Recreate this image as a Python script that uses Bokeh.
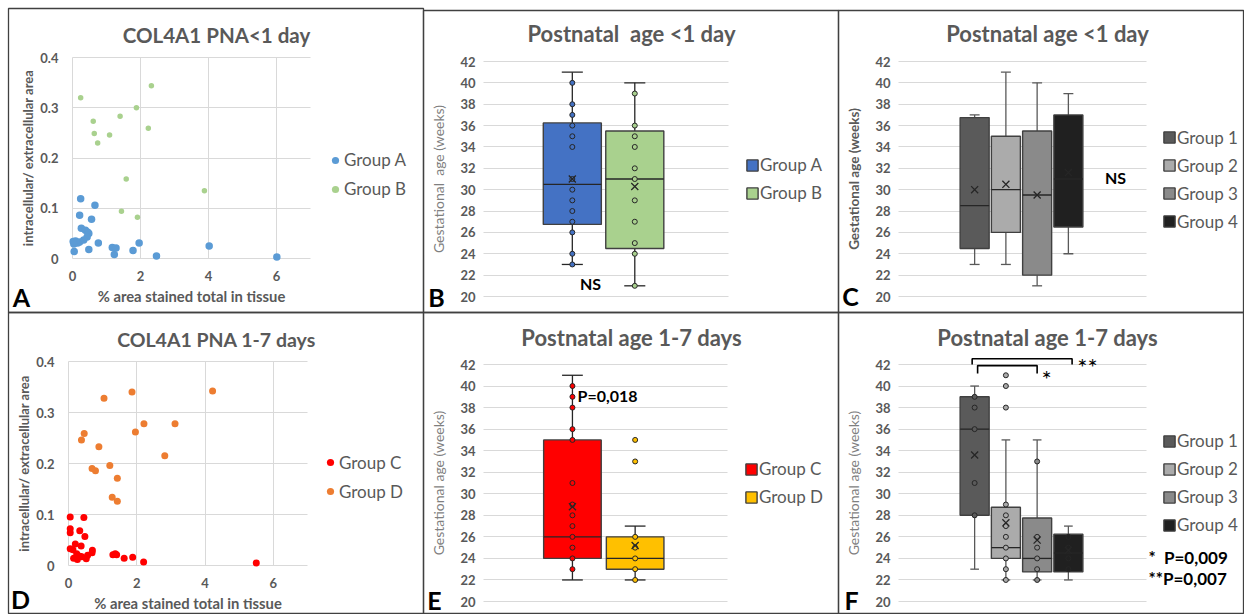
from bokeh.plotting import figure
from bokeh.models import Range1d, Label, Legend, LegendItem, FixedTicker, LinearAxis
from bokeh.embed import file_html
from bokeh.resources import INLINE

FONT = "Lato"
TXT = "#595959"
LBL = "#7F7F7F"
GRID = "#D9D9D9"
EDGE = "#404040"
W, H = 1244, 614
NB = "\u00a0"

# ---------------- data ----------------
groupA_x = [0.24, 0.66, 0.21, 0.56, 0.26, 0.38, 0.45, 0.48, 0.43, 0.33, 0.21, 0.15, 0.09,
            0.04, 0.02, 0.05, 0.48, 0.76, 1.17, 1.28, 1.23, 1.78, 1.96, 2.47, 4.02, 6.01]
groupA_y = [0.119, 0.106, 0.086, 0.078, 0.060, 0.056, 0.052, 0.050, 0.043, 0.037, 0.033, 0.031, 0.035,
            0.029, 0.034, 0.014, 0.018, 0.031, 0.022, 0.021, 0.008, 0.016, 0.031, 0.005, 0.025, 0.003]
groupB_x = [0.24, 2.32, 1.88, 1.40, 0.61, 2.23, 0.64, 1.09, 0.74, 1.58, 3.88, 1.44, 1.91]
groupB_y = [0.320, 0.344, 0.300, 0.283, 0.273, 0.259, 0.249, 0.246, 0.230, 0.158, 0.135, 0.094, 0.082]

groupC_x = [0.05, 0.45, 0.05, 0.05, 0.33, 0.48, 0.37, 0.20, 0.05, 0.13, 0.24, 0.26, 0.39,
            0.52, 0.56, 0.69, 0.70, 1.30, 1.37, 1.41, 1.63, 1.88, 2.20, 5.50, 0.15, 0.34]
groupC_y = [0.095, 0.094, 0.072, 0.064, 0.068, 0.057, 0.038, 0.042, 0.033, 0.031, 0.023, 0.012, 0.017,
            0.013, 0.020, 0.025, 0.030, 0.021, 0.023, 0.021, 0.014, 0.016, 0.007, 0.005, 0.014, 0.018]
groupD_x = [1.04, 1.86, 4.22, 2.21, 3.12, 1.96, 0.46, 0.38, 0.89, 2.82, 1.21, 0.69, 0.79, 1.43, 1.28, 1.43]
groupD_y = [0.328, 0.340, 0.342, 0.278, 0.278, 0.262, 0.259, 0.246, 0.233, 0.215, 0.196, 0.190,
            0.186, 0.171, 0.134, 0.126]

scatter_xticks = [0, 2, 4, 6]
scatter_yticks = [0, 0.1, 0.2, 0.3, 0.4]
box_yticks = [20, 22, 24, 26, 28, 30, 32, 34, 36, 38, 40, 42]

# Panel B: postnatal age <1 day, groups A/B
B_labels = ["Group A", "Group B"]
B_min = [23, 21]
B_q1 = [26.75, 24.5]
B_med = [30.5, 31.0]
B_q3 = [36.25, 35.5]
B_max = [41, 40]
B_mean = [31.0, 30.3]
B_pts = [[23, 24, 26, 27, 28, 29, 30, 31, 34, 35, 36, 37, 38, 40],
         [21, 24, 25, 27, 29, 31, 32, 34, 35, 36, 39]]

# Panel C: postnatal age <1 day, groups 1-4
C_labels = ["Group 1", "Group 2", "Group 3", "Group 4"]
C_min = [23, 23, 21, 24]
C_q1 = [24.5, 26.0, 22.0, 26.5]
C_med = [28.5, 30.0, 29.5, 31.0]
C_q3 = [36.75, 35.0, 35.5, 37.0]
C_max = [37, 41, 40, 39]
C_mean = [30.0, 30.5, 29.5, 31.6]

# Panel E: postnatal age 1-7 days, groups C/D
E_labels = ["Group C", "Group D"]
E_min = [22, 22]
E_q1 = [24.0, 23.0]
E_med = [26.0, 24.0]
E_q3 = [35.0, 26.0]
E_max = [41, 27]
E_mean = [28.8, 25.2]
E_pts = [[23, 24, 25, 26, 27, 28, 29, 31, 35, 36, 38, 39, 40],
         [22, 23, 24, 25, 26, 33, 35]]

# Panel F: postnatal age 1-7 days, groups 1-4
F_labels = ["Group 1", "Group 2", "Group 3", "Group 4"]
F_min = [23, 22, 22, 22]
F_q1 = [28.0, 24.0, 22.75, 22.75]
F_med = [36.0, 25.0, 24.0, 24.5]
F_q3 = [39.0, 28.75, 27.75, 26.25]
F_max = [40, 35, 35, 27]
F_mean = [33.6, 27.3, 25.7, 24.75]
F_pts = [[28, 31, 36, 38, 39],
         [22, 23, 24, 25, 26, 27, 28, 29, 38, 40, 41],
         [22, 23, 24, 25, 26, 33],
         [23, 24, 25, 26]]

GRAYS = ["#5A5A5A", "#ABABAB", "#8A8A8A", "#202020"]

# ---------------- page figure (page-pixel coordinates, y downward) ----------------
p = figure(width=W, height=H, x_range=Range1d(0, W), y_range=Range1d(H, 0),
           min_border=0, min_border_left=0, min_border_right=0, min_border_top=0, min_border_bottom=0,
           x_axis_location=None, y_axis_location=None, output_backend="svg", toolbar_location=None,
           background_fill_color="white", border_fill_color="white")
p.outline_line_color = None
p.grid.visible = False

# panel frames: name -> (left, right, top, bottom) in page pixels, data ranges
FRAMES = {
    "A": ((72, 310, 57, 258), (0, 7), (0, 0.4)),
    "D": ((68, 307, 361, 565), (0, 7), (0, 0.4)),
    "B": ((483, 728, 61, 296), (0, 1), (20, 42)),
    "C": ((898, 1146, 61, 296), (0, 1), (20, 42)),
    "E": ((483, 727, 364, 601), (0, 1), (20, 42)),
    "F": ((898, 1146, 364, 601), (0, 1), (20, 42)),
}
for name, ((l, r, t, b), (x0, x1), (y0, y1)) in FRAMES.items():
    kx = (x1 - x0) / (r - l)
    ky = (y1 - y0) / (b - t)
    p.extra_x_ranges[name + "x"] = Range1d(x0 - l * kx, x0 + (W - l) * kx)
    p.extra_y_ranges[name + "y"] = Range1d(y0 - (H - b) * ky, y1 + t * ky)

# panel borders
p.quad(left=[8, 423, 838, 8, 423, 838], right=[423, 838, 1243, 423, 838, 1243],
       top=[8, 10, 10, 312, 312, 312], bottom=[312, 312, 312, 613, 613, 613],
       fill_alpha=0, line_color=EDGE, line_width=1.3)


def style_axis(ax, size="13px", standoff=8, label="", label_size="13px",
               label_bold=True, label_color=TXT, label_standoff=4, tick_in=0):
    ax.axis_line_color = None
    ax.major_tick_line_color = GRID
    ax.major_tick_line_width = 1
    ax.major_tick_in = tick_in
    ax.major_tick_out = 0
    ax.minor_tick_line_color = None
    ax.major_label_text_font = FONT
    ax.major_label_text_font_size = size
    ax.major_label_text_font_style = "bold"
    ax.major_label_text_color = TXT
    ax.major_label_standoff = standoff
    ax.axis_label = label
    ax.axis_label_text_font = FONT
    ax.axis_label_text_font_size = label_size
    ax.axis_label_text_font_style = "bold" if label_bold else "normal"
    ax.axis_label_text_color = label_color
    ax.axis_label_standoff = label_standoff
    ax.level = "underlay"


def text(x, y, s, size, bold=False, color=TXT, align="left", baseline="middle"):
    p.add_layout(Label(x=x, y=y, text=s, text_font=FONT, text_font_size=f"{size}px",
                       text_font_style="bold" if bold else "normal",
                       text_color=color, text_align=align, text_baseline=baseline))


def letter(x, y, s):
    text(x, y, s, 25, bold=True, color="black", align="center")


def legend(items, x_left, y_first, pitch, gw, gh, standoff, lh=20):
    n = len(items)
    lg = Legend(items=items, padding=0, margin=0, spacing=int(round(pitch - lh)),
                glyph_width=gw, glyph_height=gh, label_height=lh, label_standoff=standoff,
                label_text_font=FONT, label_text_font_size="17px", label_text_color=TXT,
                border_line_color=None, background_fill_alpha=0)
    lg.location = (x_left, H - (y_first + (n - 1) * pitch + lh / 2))
    p.add_layout(lg)


def positions(n, center, step):
    return [center + (i - (n - 1) / 2) * step for i in range(n)]


def scatter_axes(name):
    (l, r, t, b), _, _ = FRAMES[name]
    ax = LinearAxis(x_range_name=name + "x", y_range_name=name + "y", fixed_location=0,
                    ticker=FixedTicker(ticks=scatter_xticks), bounds=(0, 7))
    style_axis(ax, standoff=12, label="% area stained total in tissue", label_size="14.8px",
               label_standoff=3, tick_in=b - t)
    p.add_layout(ax, "below")
    ay = LinearAxis(x_range_name=name + "x", y_range_name=name + "y", fixed_location=0,
                    ticker=FixedTicker(ticks=scatter_yticks), bounds=(0, 0.4))
    style_axis(ay, standoff=14, label="intracellular/ extracellular area", label_size="13px",
               label_standoff=1, tick_in=r - l)
    ay.major_label_overrides = {0: "0"}
    p.add_layout(ay, "left")


def box_axes(name, ylab, bold):
    (l, r, t, b), _, _ = FRAMES[name]
    ay = LinearAxis(x_range_name=name + "x", y_range_name=name + "y", fixed_location=0,
                    ticker=FixedTicker(ticks=box_yticks), bounds=(20, 42))
    style_axis(ay, standoff=8, label=ylab, label_size="13.5px" if bold else "14px",
               label_bold=bold, label_color=TXT if bold else LBL, label_standoff=10, tick_in=r - l)
    p.add_layout(ay, "left")


def boxplot(name, pos, w, cap, mins, q1, med, q3, maxs, means, fills, wcolor, pts=None):
    kw = dict(x_range_name=name + "x", y_range_name=name + "y")
    lo = [x - cap / 2 for x in pos]
    hi = [x + cap / 2 for x in pos]
    p.segment(x0=pos, y0=q3, x1=pos, y1=maxs, line_color=wcolor, line_width=1.3, **kw)
    p.segment(x0=pos, y0=q1, x1=pos, y1=mins, line_color=wcolor, line_width=1.3, **kw)
    p.segment(x0=lo, y0=maxs, x1=hi, y1=maxs, line_color=wcolor, line_width=1.3, **kw)
    p.segment(x0=lo, y0=mins, x1=hi, y1=mins, line_color=wcolor, line_width=1.3, **kw)
    r = p.vbar(x=pos, width=w, bottom=q1, top=q3, fill_color=fills, line_color=EDGE, line_width=1.4, **kw)
    p.segment(x0=[x - w / 2 for x in pos], y0=med, x1=[x + w / 2 for x in pos], y1=med,
              line_color="#262626", line_width=1.3, **kw)
    if pts:
        for i, ys in enumerate(pts):
            p.scatter([pos[i]] * len(ys), ys, marker="circle", size=5, fill_color=fills[i],
                      line_color="#262626", line_width=1, **kw)
    p.scatter(pos, means, marker="x", size=10, line_color="#262626", line_width=1.3, **kw)
    return r


# ---------------- panel A ----------------
scatter_axes("A")
rA = p.scatter(groupA_x, groupA_y, marker="circle", size=7.5, fill_color="#5B9BD5", line_color=None,
               x_range_name="Ax", y_range_name="Ay")
rB = p.scatter(groupB_x, groupB_y, marker="circle", size=5.5, fill_color="#A9D18E", line_color=None,
               x_range_name="Ax", y_range_name="Ay")
text(216, 34, "COL4A1 PNA<1 day", 20.5, bold=True, align="center")
letter(21, 296, "A")
legend([LegendItem(label="Group A", renderers=[rA]), LegendItem(label="Group B", renderers=[rB])],
       326, 161, 28, 18, 20, 0)

# ---------------- panel D ----------------
scatter_axes("D")
rC = p.scatter(groupC_x, groupC_y, marker="circle", size=7, fill_color="#FF0000", line_color=None,
               x_range_name="Dx", y_range_name="Dy")
rD = p.scatter(groupD_x, groupD_y, marker="circle", size=7, fill_color="#ED7D31", line_color=None,
               x_range_name="Dx", y_range_name="Dy")
text(216, 339, "COL4A1 PNA 1-7 days", 19.5, bold=True, align="center")
letter(20, 598, "D")
legend([LegendItem(label="Group C", renderers=[rC]), LegendItem(label="Group D", renderers=[rD])],
       321, 464, 27.5, 18, 20, 0)

# ---------------- panel B ----------------
box_axes("B", "Gestational" + NB + " age (weeks)", False)
posB = positions(2, 0.49, 0.255)
rBoxB = boxplot("B", posB, 0.237, 0.086, B_min, B_q1, B_med, B_q3, B_max, B_mean,
                ["#4472C4", "#A9D18E"], "#262626", B_pts)
text(631, 33, "Postnatal" + NB + " age <1 day", 22, bold=True, align="center")
letter(436, 296, "B")
text(590, 283, "NS", 16, bold=True, color="black", align="center")
legend([LegendItem(label=l, renderers=[rBoxB], index=i) for i, l in enumerate(B_labels)],
       745, 166, 27, 14, 14, 1)

# ---------------- panel C ----------------
box_axes("C", "Gestational age (weeks)", True)
posC = positions(4, 0.496, 0.126)
rBoxC = boxplot("C", posC, 0.117, 0.04, C_min, C_q1, C_med, C_q3, C_max, C_mean, GRAYS, "#595959")
text(1047, 33, "Postnatal age <1 day", 22, bold=True, align="center")
letter(850, 295, "C")
text(1115, 177, "NS", 16, bold=True, color="black", align="center")
legend([LegendItem(label=l, renderers=[rBoxC], index=i) for i, l in enumerate(C_labels)],
       1162, 140, 27.3, 14, 14, 1)

# ---------------- panel E ----------------
box_axes("E", "Gestational age (weeks)", False)
posE = positions(2, 0.493, 0.257)
rBoxE = boxplot("E", posE, 0.236, 0.085, E_min, E_q1, E_med, E_q3, E_max, E_mean,
                ["#FF0000", "#FFC000"], "#262626", E_pts)
text(631, 337, "Postnatal age 1-7 days", 22, bold=True, align="center")
letter(434, 599, "E")
text(577, 395, "P=0,018", 16, bold=True, color="black")
legend([LegendItem(label=l, renderers=[rBoxE], index=i) for i, l in enumerate(E_labels)],
       744, 470, 27.3, 14, 14, 1)

# ---------------- panel F ----------------
box_axes("F", "Gestational age (weeks)", False)
posF = positions(4, 0.496, 0.126)
rBoxF = boxplot("F", posF, 0.117, 0.035, F_min, F_q1, F_med, F_q3, F_max, F_mean, GRAYS, "#595959", F_pts)
p.line([posF[0] - 0.01, posF[0] - 0.01, posF[3] + 0.015, posF[3] + 0.015],
       [42.0, 42.53, 42.53, 42.0], line_color="black", line_width=1.6, x_range_name="Fx", y_range_name="Fy")
p.line([posF[0] + 0.012, posF[0] + 0.012, posF[2], posF[2]],
       [41.16, 41.9, 41.9, 41.16], line_color="black", line_width=1.6, x_range_name="Fx", y_range_name="Fy")
text(1047, 337, "Postnatal age 1-7 days", 22, bold=True, align="center")
letter(851, 599, "F")
text(1087, 366, "**", 24, bold=False, color="black", align="center")
text(1046, 378, "*", 24, bold=False, color="black", align="center")
text(1148, 557, "*" + NB + " P=0,009", 17, bold=True, color="black")
text(1148, 578, "**P=0,007", 17, bold=True, color="black")
legend([LegendItem(label=l, renderers=[rBoxF], index=i) for i, l in enumerate(F_labels)],
       1162, 445, 26.7, 14, 14, 1)

open("out.html", "w").write(file_html(p, INLINE))
